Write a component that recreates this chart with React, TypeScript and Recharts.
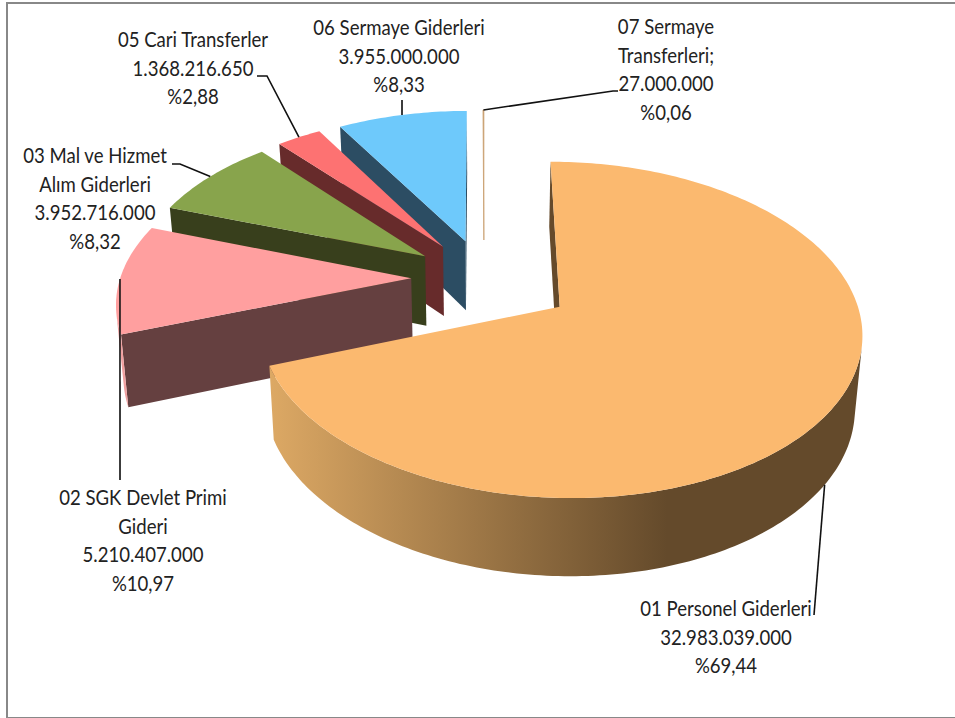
import { PieChart, Pie } from "recharts";

const categories = [
  ["01 Personel Giderleri"],
  ["02 SGK Devlet Primi", "Gideri"],
  ["03 Mal ve Hizmet", "Alım Giderleri"],
  ["05 Cari Transferler"],
  ["06 Sermaye Giderleri"],
  ["07 Sermaye", "Transferleri;"],
];
const amounts = [32983039000, 5210407000, 3952716000, 1368216650, 3955000000, 27000000];
const percents = [69.44, 10.97, 8.32, 2.88, 8.33, 0.06];

const topColors = ["#fbb96f", "#ff9f9f", "#88a44c", "#fd7272", "#6ec9fb", "#c9a070"];
const faceColors = ["#654a2b", "#654040", "#383f1c", "#672b2b", "#2c4d63", "none"];
const rimColors = ["url(#wallFade)", "#f0a0a0", "#383f1c", "#672b2b", "#2c4d63", "none"];
const explode = [0.31, 0.25, 0.25, 0.25, 0.25, 0.25];

// label centre x, first baseline, leader points after the anchor on the slice
const labelSpots = [
  { x: 726, y: 616, leader: [[814, 615]], onFloor: true },
  { x: 143, y: 505, leader: [[120, 480]] },
  { x: 95, y: 163, leader: [[180, 164], [172, 164]] },
  { x: 193, y: 47, leader: [[267, 76], [257, 76]] },
  { x: 399, y: 35, leader: [[402, 100]] },
  { x: 666, y: 34, leader: [[613, 91], [618, 91]] },
];

const FONT_SIZE = 21;
const FONT_SQUEEZE = 0.885;
const LINE_GAP = 28.7;

const dotted = (n: number) => String(n).replace(/\B(?=(\d{3})+$)/g, ".");

// drawn back to front, so the list runs counter-clockwise from 07 round to 01
const rows = categories
  .map((lines, slot) => ({ name: lines.join(" "), value: amounts[slot], slot }))
  .reverse();

const RAD = Math.PI / 180;
const PERSPECTIVE = 0.135;
const TILT = 0.54;

function lift(x: number, y: number, R: number, cx: number, cy: number) {
  const s = 1 / (1 - PERSPECTIVE * y);
  return [cx + x * R * s, cy + y * R * TILT * s];
}

function sink(x: number, y: number, R: number, cx: number, cy: number) {
  const [px, py] = lift(x, y, R, cx, cy);
  const vanish = cx + 3;
  return [vanish + (px - vanish) * 0.98, py + 70.5 + 6.5 * y];
}

function area(pts: number[][]) {
  let sum = 0;
  pts.forEach((p, i) => {
    const q = pts[(i + 1) % pts.length];
    sum += p[0] * q[1] - q[0] * p[1];
  });
  return sum;
}

const toPath = (pts: number[][]) =>
  "M" + pts.map((p) => p[0].toFixed(2) + "," + p[1].toFixed(2)).join("L") + "Z";

function Slice3D(props: any) {
  const { cx, cy, outerRadius: R, startAngle, endAngle, midAngle } = props;
  const slot = props.payload?.slot ?? props.slot;
  const off = explode[slot];
  const ox = Math.cos(midAngle * RAD) * off;
  const oy = -Math.sin(midAngle * RAD) * off;

  const steps = Math.max(2, Math.ceil(Math.abs(endAngle - startAngle)));
  const rim: number[][] = [];
  for (let i = 0; i <= steps; i++) {
    const a = (startAngle + ((endAngle - startAngle) * i) / steps) * RAD;
    rim.push([ox + Math.cos(a), oy - Math.sin(a)]);
  }
  const top = rim.map((p) => lift(p[0], p[1], R, cx, cy));
  const floor = rim.map((p) => sink(p[0], p[1], R, cx, cy));
  const apexTop = lift(ox, oy, R, cx, cy);
  const apexFloor = sink(ox, oy, R, cx, cy);

  let first = -1;
  let last = -1;
  for (let i = 0; i < steps; i++) {
    if (area([top[i], top[i + 1], floor[i + 1], floor[i]]) > 0) {
      if (first < 0) first = i;
      last = i + 1;
    }
  }
  const wall =
    first >= 0
      ? [...top.slice(first, last + 1), ...floor.slice(first, last + 1).reverse()]
      : null;

  const faces = [
    [apexTop, top[0], floor[0], apexFloor],
    [top[steps], apexTop, apexFloor, floor[steps]],
  ].filter((q) => area(q) > 0);

  // the 0,06 slice is thinner than a pixel, so it needs a hairline to show at all
  const sliver = endAngle - startAngle < 1;

  return (
    <g>
      <defs>
        <linearGradient id="wallFade" gradientUnits="userSpaceOnUse" x1={272} y1={0} x2={667} y2={0}>
          <stop offset="0" stopColor="#dca864" />
          <stop offset="1" stopColor="#644a2b" />
        </linearGradient>
      </defs>
      {faces.map((q, i) => (
        <path key={i} d={toPath(q)} fill={faceColors[slot]} />
      ))}
      {wall && <path d={toPath(wall)} fill={rimColors[slot]} />}
      <path
        d={toPath([apexTop, ...top])}
        fill={topColors[slot]}
        stroke={sliver ? topColors[slot] : "none"}
        strokeWidth={sliver ? 0.8 : 0}
      />
    </g>
  );
}

function SliceLabel(props: any) {
  const { cx, cy, outerRadius: R, midAngle } = props;
  const slot = props.payload?.slot ?? props.slot;
  const spot = labelSpots[slot];
  const off = explode[slot];
  const mx = Math.cos(midAngle * RAD) * (1 + off);
  const my = -Math.sin(midAngle * RAD) * (1 + off);
  const anchor = spot.onFloor ? sink(mx, my, R, cx, cy) : lift(mx, my, R, cx, cy);
  const lines = [
    ...categories[slot],
    dotted(amounts[slot]),
    "%" + percents[slot].toFixed(2).replace(".", ","),
  ];
  return (
    <g>
      <polyline
        points={[anchor, ...spot.leader].map((p) => p.join(",")).join(" ")}
        fill="none"
        stroke="#111"
        strokeWidth={1.6}
      />
      {lines.map((line, i) => (
        <text
          key={i}
          transform={`translate(${spot.x} ${spot.y + i * LINE_GAP}) scale(${FONT_SQUEEZE} 1)`}
          textAnchor="middle"
          fontFamily="Lato, sans-serif"
          fontSize={FONT_SIZE}
          fill="#222"
        >
          {line}
        </text>
      ))}
    </g>
  );
}

export default function App() {
  return (
    <div style={{ position: "absolute", left: 0, top: 0, width: 955, height: 718, background: "#fff", overflow: "hidden" }}>
      <div style={{ position: "absolute", left: 6, top: 2, width: 960, height: 713, borderLeft: "2px solid #888", borderTop: "2px solid #888", borderBottom: "2px solid #888" }} />
      <div style={{ position: "absolute", left: 0, top: 0 }}>
        <PieChart width={955} height={718} margin={{ top: 0, right: 0, bottom: 0, left: 0 }}>
          <Pie
            data={rows}
            dataKey="value"
            nameKey="name"
            cx={484}
            cy={278}
            innerRadius={0}
            outerRadius={291}
            startAngle={90}
            endAngle={450}
            stroke="none"
            isAnimationActive={false}
            shape={Slice3D}
            label={SliceLabel}
            labelLine={false}
          />
        </PieChart>
      </div>
    </div>
  );
}
